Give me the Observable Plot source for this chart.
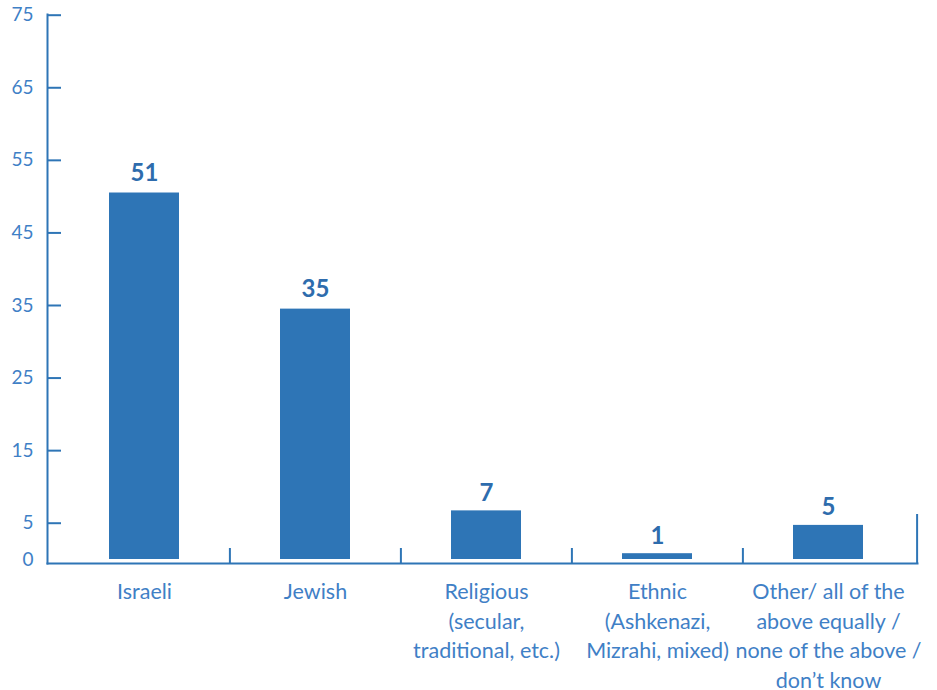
<!DOCTYPE html>
<html>
<head>
<meta charset="utf-8">
<script src="https://cdn.jsdelivr.net/npm/d3@7"></script>
<script src="https://cdn.jsdelivr.net/npm/@observablehq/plot@0.6"></script>
<style>
  html, body { margin: 0; padding: 0; background: #ffffff; }
</style>
</head>
<body>
<div id="chart"></div>
<script>
const categories = [
  "Israeli",
  "Jewish",
  "Religious\n(secular,\ntraditional, etc.)",
  "Ethnic\n(Ashkenazi,\nMizrahi, mixed)",
  "Other/ all of the\nabove equally /\nnone of the above /\ndon’t know"
];
const values = [50.5, 34.5, 6.7, 0.8, 4.7];
const valueLabels = [51, 35, 7, 1, 5];
const yTicks = [0, 5, 15, 25, 35, 45, 55, 65, 75];

const blue = "#2E75B6";
const textBlue = "#3F80C6";
const labelBlue = "#2E6CAD";

const rows = categories.map((c, i) => ({category: c, value: values[i], label: valueLabels[i]}));

const xRange = [58, 914];
const step = (xRange[1] - xRange[0]) / categories.length;

const chart = Plot.plot({
  width: 937,
  height: 690,
  marginTop: 14,
  marginBottom: 127,
  marginLeft: 47,
  marginRight: 20,
  style: {fontFamily: "Lato, 'Open Sans', sans-serif", background: "#ffffff"},
  x: {type: "band", domain: categories, range: xRange, paddingInner: 0.588, paddingOuter: 0.294, axis: null},
  y: {domain: [0, 75], range: [559, 14.7], axis: null},
  marks: [
    Plot.barY(rows, {x: "category", y: "value", fill: blue}),
    Plot.text(rows, {x: "category", y: "label", text: d => String(d.label), dy: -8, lineAnchor: "bottom", fontWeight: "bold", fontSize: 24, fill: labelBlue}),
    Plot.tickY(yTicks.filter(t => t > 0), {y: d => d, stroke: blue, strokeWidth: 2, insetRight: 856}),
    Plot.frame({anchor: "left", stroke: blue, strokeWidth: 2}),
    Plot.frame({anchor: "bottom", stroke: blue, strokeWidth: 2}),
    Plot.ruleX(categories.slice(1), {x: d => d, dx: -step / 2, stroke: blue, strokeWidth: 2, insetTop: 534}),
    Plot.ruleX(categories.slice(-1), {x: d => d, dx: step / 2 + 3, stroke: blue, strokeWidth: 2, insetTop: 500}),
    Plot.axisY(yTicks, {tickSize: 0, tickPadding: 14, fontSize: 19, color: textBlue, label: null}),
    Plot.axisX({tickSize: 0, tickPadding: 15, fontSize: 21.5, lineHeight: 1.37, color: textBlue, label: null})
  ]
});
document.getElementById("chart").appendChild(chart);
</script>
</body>
</html>
